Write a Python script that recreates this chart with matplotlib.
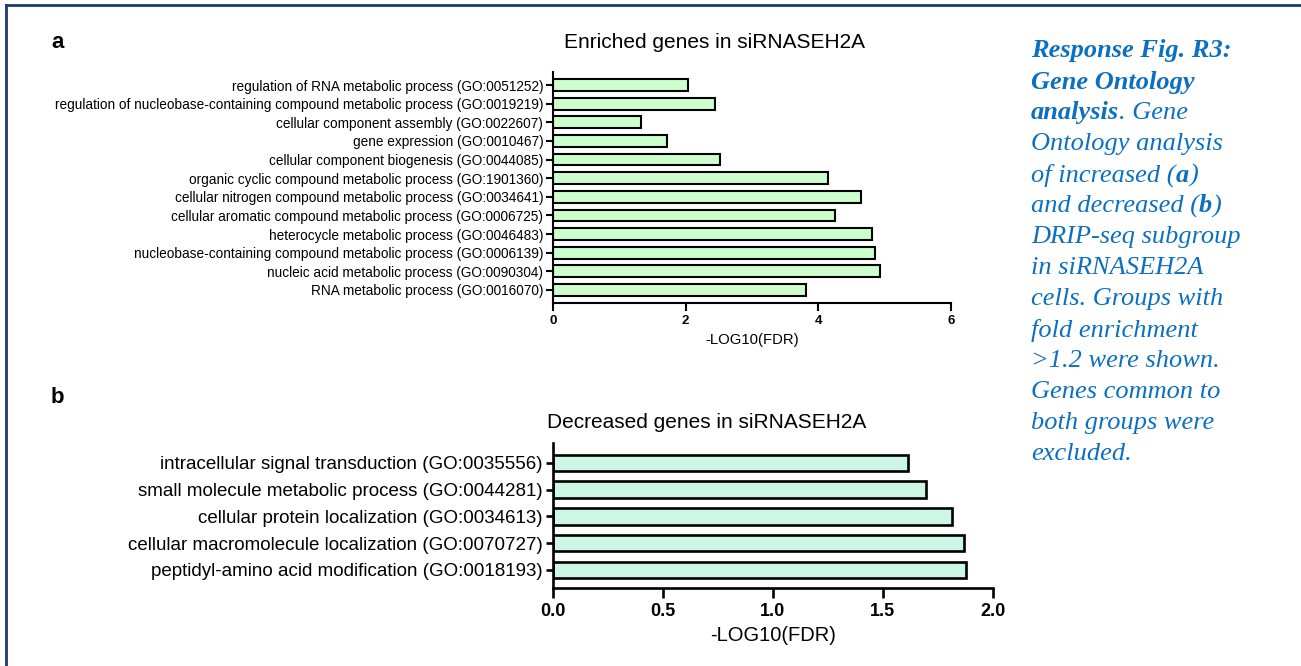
import matplotlib
matplotlib.use('Agg')
import matplotlib.pyplot as plt
from matplotlib.lines import Line2D

# datos panel a
terminos_a = ['regulation of RNA metabolic process (GO:0051252)',
              'regulation of nucleobase-containing compound metabolic process (GO:0019219)',
              'cellular component assembly (GO:0022607)',
              'gene expression (GO:0010467)',
              'cellular component biogenesis (GO:0044085)',
              'organic cyclic compound metabolic process (GO:1901360)',
              'cellular nitrogen compound metabolic process (GO:0034641)',
              'cellular aromatic compound metabolic process (GO:0006725)',
              'heterocycle metabolic process (GO:0046483)',
              'nucleobase-containing compound metabolic process (GO:0006139)',
              'nucleic acid metabolic process (GO:0090304)',
              'RNA metabolic process (GO:0016070)']
valores_a = [2.04, 2.44, 1.33, 1.72, 2.52, 4.14, 4.65, 4.25, 4.81, 4.85, 4.93, 3.82]

# datos panel b
terminos_b = ['intracellular signal transduction (GO:0035556)',
              'small molecule metabolic process (GO:0044281)',
              'cellular protein localization (GO:0034613)',
              'cellular macromolecule localization (GO:0070727)',
              'peptidyl-amino acid modification (GO:0018193)']
valores_b = [1.617, 1.697, 1.813, 1.871, 1.88]

plt.rcParams['font.family'] = ['Liberation Sans', 'DejaVu Sans']

fig = plt.figure(figsize=(13.01, 6.66), dpi=100)

def panel(ax, terminos, valores, color, ticks, etiquetas, fs_lab, fs_tick, fs_xlab, lw, altura,
          lim_inf, lim_sup, largo, sep, sep_lab):
    pos = list(range(len(terminos)))
    ax.barh(pos, valores, height=altura, color=color, edgecolor='black', linewidth=lw)
    ax.set_yticks(pos)
    ax.set_yticklabels(terminos, fontsize=fs_lab)
    ax.set_ylim(lim_sup, lim_inf)
    ax.set_xlim(ticks[0], ticks[-1])
    ax.set_xticks(ticks)
    ax.set_xticklabels(etiquetas, fontsize=fs_tick, fontweight='bold')
    ax.spines['top'].set_visible(False)
    ax.spines['right'].set_visible(False)
    ax.spines['left'].set_linewidth(lw)
    ax.spines['bottom'].set_linewidth(lw)
    ax.tick_params(axis='y', width=lw, length=5, pad=2)
    ax.tick_params(axis='x', width=lw, length=largo, pad=sep)
    ax.set_xlabel('-LOG10(FDR)', fontsize=fs_xlab, labelpad=sep_lab)

ax1 = fig.add_axes([553/1301, 1 - 303/666, 398/1301, 231/666])
panel(ax1, terminos_a, valores_a, '#ccffcc', [0, 2, 4, 6], ['0', '2', '4', '6'],
      9.8, 9.5, 10.7, 1.5, 0.63, -0.7, 11.7, 6, 3, 4)

ax2 = fig.add_axes([552.7/1301, 1 - 588/666, 440/1301, 145/666])
panel(ax2, terminos_b, valores_b, '#ccf6e6', [0.0, 0.5, 1.0, 1.5, 2.0], ['0.0', '0.5', '1.0', '1.5', '2.0'],
      13.5, 13, 14.5, 1.9, 0.62, -0.74, 4.68, 7, 4, 4)

fig.text(715/1301, 1 - 42/666, 'Enriched genes in siRNASEH2A', ha='center', va='center', fontsize=15)
fig.text(707/1301, 1 - 423/666, 'Decreased genes in siRNASEH2A', ha='center', va='center', fontsize=15)
fig.text(51/1301, 1 - 42/666, 'a', ha='left', va='center', fontsize=16, fontweight='bold')
fig.text(51/1301, 1 - 397/666, 'b', ha='left', va='center', fontsize=16, fontweight='bold')

# borde
fig.add_artist(Line2D([6/1301, 6/1301], [0, 1 - 5/666], color='#1f3a6e', linewidth=2))
fig.add_artist(Line2D([6/1301, 1], [1 - 5/666, 1 - 5/666], color='#1f3a6e', linewidth=2))

# leyenda a la derecha
azul = '#0b6fc2'
lineas = [
    [('Response Fig. R3:', 'bold')],
    [('Gene Ontology', 'bold')],
    [('analysis', 'bold'), ('. Gene', 'normal')],
    [('Ontology analysis', 'normal')],
    [('of increased (', 'normal'), ('a', 'bold'), (')', 'normal')],
    [('and decreased (', 'normal'), ('b', 'bold'), (')', 'normal')],
    [('DRIP-seq subgroup', 'normal')],
    [('in siRNASEH2A', 'normal')],
    [('cells. Groups with', 'normal')],
    [('fold enrichment', 'normal')],
    [('>1.2 were shown.', 'normal')],
    [('Genes common to', 'normal')],
    [('both groups were', 'normal')],
    [('excluded.', 'normal')],
]
fig.canvas.draw()
renderer = fig.canvas.get_renderer()
y0 = 51
for i, partes in enumerate(lineas):
    x = 1031
    for texto, peso in partes:
        t = fig.text(x/1301, 1 - (y0 + i*31)/666, texto, ha='left', va='center',
                     fontsize=19, style='italic', fontweight=peso, color=azul,
                     family=['Liberation Serif', 'DejaVu Serif'])
        bb = t.get_window_extent(renderer=renderer)
        x = bb.x1

fig.savefig('out.png', dpi=100)
